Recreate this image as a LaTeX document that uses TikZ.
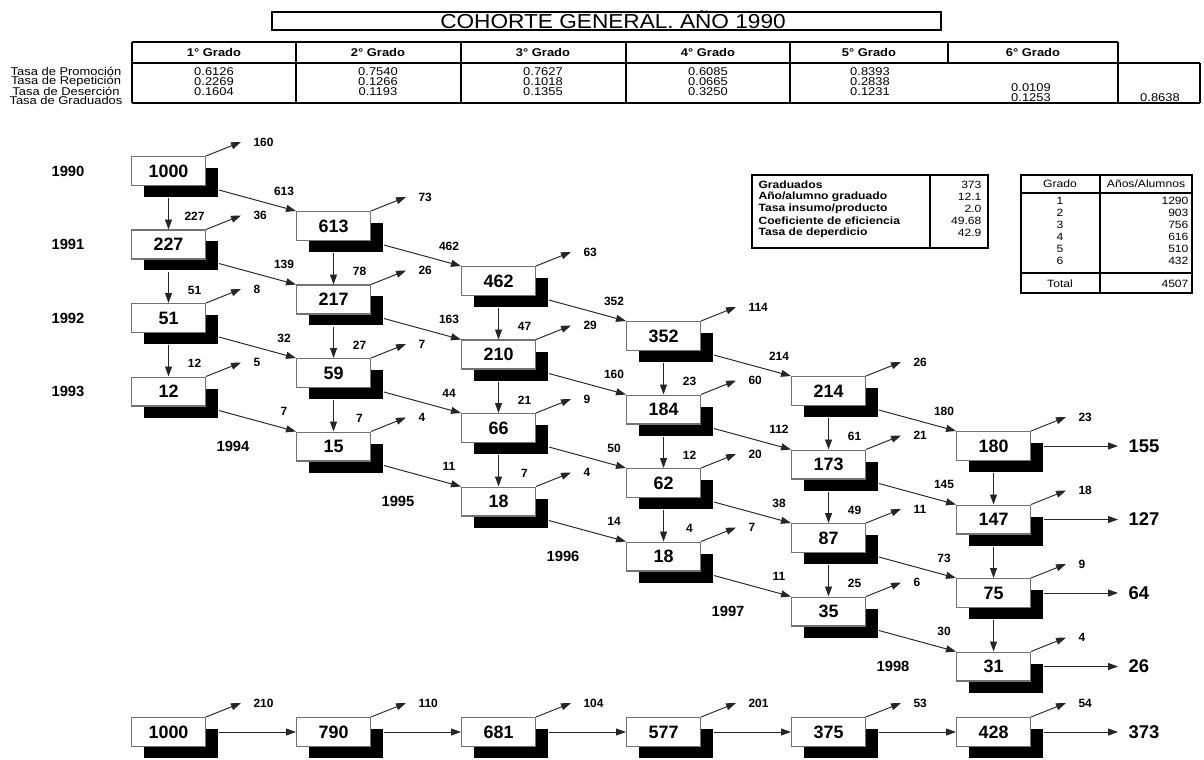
\documentclass[tikz,border=0pt]{standalone}
\usepackage{fontspec}
\setmainfont{Liberation Sans}
\newfontfamily\ancha[FakeStretch=1.15]{Liberation Sans}
\newfontfamily\anchatit[FakeStretch=1.12]{Liberation Sans}
\usetikzlibrary{arrows.meta,calc}

\tikzset{
  caja/.style={draw=black!55, fill=white, line width=0.6pt, anchor=north west,
    minimum width=1.48cm, minimum height=0.58cm, inner sep=0pt,
    font=\fontsize{10.2}{12}\selectfont\bfseries},
  sombra/.style={fill=black},
  flecha/.style={draw=black!85, line width=0.55pt, -{Triangle[length=0.2cm,width=0.14cm]}},
  etiq/.style={inner sep=0pt, font=\fontsize{6.8}{8}\selectfont\bfseries},
  anio/.style={inner sep=0pt, font=\fontsize{8.4}{10}\selectfont\bfseries},
  egreso/.style={inner sep=0pt, anchor=west, font=\fontsize{10.5}{12}\selectfont\bfseries},
  txt/.style={inner sep=0pt, font=\ancha\fontsize{6.4}{7}\selectfont},
  txtb/.style={inner sep=0pt, font=\ancha\fontsize{6.4}{7}\selectfont\bfseries},
  ind/.style={inner sep=0pt, font=\ancha\fontsize{6}{7}\selectfont},
  indb/.style={inner sep=0pt, font=\ancha\fontsize{6}{7}\selectfont\bfseries},
}

\begin{document}
\begin{tikzpicture}[x=0.02cm, y=-0.02cm, line width=0.6pt]
  \useasboundingbox (0,0) rectangle (1204,760);

  % Title
  \draw (272,12) rectangle (941,30);
  \node[inner sep=0pt, anchor=base, font=\anchatit\fontsize{11.5}{13}\selectfont] (titulo) at (613,28.5) {COHORTE GENERAL. AÑO 1990};

  % Table of rates
  \draw (132,42) -- (1118,42);
  \draw (132,63) -- (1200,63);
  \draw (132,103) -- (1200,103);
  \foreach \x in {132,296,461,626,790,948,1118}
    \draw (\x,42) -- (\x,63);
  \foreach \x in {132,296,461,626,790,1118,1200}
    \draw (\x,63) -- (\x,103);
  \foreach \g/\x in {1/214,2/378,3/543,4/708,5/869,6/1033}
    \node[txtb] (h\g) at (\x,52.5) {\g° Grado};
  \foreach \t [count=\i] in {Promoción,Repetición,Deserción,Graduados}
    \node[txt] (f\i) at (66,62+9.7*\i) {Tasa de \t};
  \foreach \x/\vp/\vr/\vd [count=\g] in {214/0.6126/0.2269/0.1604,378/0.7540/0.1266/0.1193,
      543/0.7627/0.1018/0.1355,708/0.6085/0.0665/0.3250,870/0.8393/0.2838/0.1231}
  {
    \node[txt] (p\g) at (\x,72) {\vp};
    \node[txt] (r\g) at (\x,82) {\vr};
    \node[txt] (d\g) at (\x,92) {\vd};
  }
  \node[txt] (r6) at (1031,88) {0.0109};
  \node[txt] (d6) at (1031,98) {0.1253};
  \node[txt] (g7) at (1160,98) {0.8638};

  % Indicators
  \draw (752,175) rectangle (988,248);
  \draw (930,175) -- (930,248);
  \foreach \t/\v [count=\i] in {Graduados/373,{Año/alumno graduado}/12.1,{Tasa insumo/producto}/2.0,
      Coeficiente de eficiencia/49.68,Tasa de deperdicio/42.9}
  {
    \node[indb, anchor=west] (ind\i) at (758,173+12*\i) {\t};
    \node[ind, anchor=east] (val\i) at (982,173+12*\i) {\v};
  }

  % Years per student
  \draw (1021,175) rectangle (1192,293);
  \draw (1100,175) -- (1100,293);
  \draw (1021,193) -- (1192,193);
  \draw (1021,273) -- (1192,273);
  \node[ind] (grado) at (1060,184) {Grado};
  \node[ind] (anios) at (1146,184) {Años/Alumnos};
  \foreach \v [count=\i] in {1290,903,756,616,510,432}
  {
    \node[ind] (gr\i) at (1060,189+12*\i) {\i};
    \node[ind, anchor=east] (aa\i) at (1189,189+12*\i) {\v};
  }
  \node[ind] (total) at (1060,284) {Total};
  \node[ind, anchor=east] (suma) at (1189,284) {4507};

  % Boxes of the cohort
  \foreach \col/\lista in {0/{1000,227,51,12},1/{613,217,59,15},2/{462,210,66,18},
      3/{352,184,62,18},4/{214,173,87,35},5/{180,147,75,31}}
    \foreach \v [count=\fil from 0] in \lista
    {
      \fill[sombra] (131+165*\col+13, 156+55*\col+73.5*\fil+12) rectangle ++(74,29);
      \node[caja] (n\col\fil) at (131+165*\col, 156+55*\col+73.5*\fil) {\v};
    }

  % Dropouts
  \foreach \col/\lista in {0/{160,36,8,5},1/{73,26,7,4},2/{63,29,9,4},
      3/{114,60,20,7},4/{26,21,11,6},5/{23,18,9,4}}
    \foreach \v [count=\fil from 0] in \lista
    {
      \coordinate (d\col\fil) at ($(n\col\fil.north east)+(35,-14)$);
      \draw[flecha] (n\col\fil.north east) -- (d\col\fil);
      \node[etiq, anchor=west] (ed\col\fil) at ($(d\col\fil)+(12,0)$) {\v};
    }

  % Repeaters
  \foreach \col/\lista in {0/{227,51,12},1/{78,27,7},2/{47,21,7},3/{23,12,4},4/{61,49,25}}
    \foreach \v [count=\fil from 1] in \lista
    {
      \pgfmathtruncatemacro\ant{\fil-1}
      \draw[flecha] ($(n\col\ant.south)+(0,12)$) -- (n\col\fil.north);
      \node[etiq] (ev\col\fil) at ($(n\col\fil.north)+(26,-13)$) {\v};
    }
  \foreach \fil [count=\ant from 0] in {1,2,3}
    \draw[flecha] ($(n5\ant.south)+(0,12)$) -- (n5\fil.north);

  % Promoted
  \foreach \col/\lista in {1/{613,139,32,7},2/{462,163,44,11},3/{352,160,50,14},
      4/{214,112,38,11},5/{180,145,73,30}}
    \foreach \v [count=\fil from 0] in \lista
    {
      \pgfmathtruncatemacro\ant{\col-1}
      \draw[flecha] ($(n\ant\fil.south east)+(13,4)$) -- (n\col\fil.north west);
      \node[etiq] (ep\col\fil) at ($(n\col\fil.north west)+(-12,-20)$) {\v};
    }

  % Graduates
  \foreach \v [count=\fil from 0] in {155,127,64,26}
  {
    \coordinate (g\fil) at ($(n5\fil.east)+(87,0)$);
    \draw[flecha] ($(n5\fil.east)+(13,0)$) -- (g\fil);
    \node[egreso] (eg\fil) at ($(g\fil)+(10,0)$) {\v};
  }

  % Years
  \foreach \fil in {0,...,3}
    \node[anio] (a\fil) at ($(n0\fil.west)+(-63,0)$) {199\fil};
  \foreach \col in {1,...,5}
  {
    \pgfmathtruncatemacro\an{1993+\col}
    \node[anio] (b\col) at ($(n\col3.west)+(-63,0)$) {\an};
  }

  % Bottom row
  \foreach \v [count=\i from 0] in {1000,790,681,577,375,428}
  {
    \fill[sombra] (131+165*\i+13, 717+12) rectangle ++(74,29);
    \node[caja] (m\i) at (131+165*\i, 717) {\v};
  }
  \foreach \v [count=\i from 0] in {210,110,104,201,53,54}
  {
    \coordinate (q\i) at ($(m\i.north east)+(35,-14)$);
    \draw[flecha] (m\i.north east) -- (q\i);
    \node[etiq, anchor=west] (eq\i) at ($(q\i)+(12,0)$) {\v};
  }
  \foreach \i [count=\j from 1] in {0,...,4}
    \draw[flecha] ($(m\i.east)+(13,0)$) -- (m\j.west);
  \coordinate (fin) at ($(m5.east)+(87,0)$);
  \draw[flecha] ($(m5.east)+(13,0)$) -- (fin);
  \node[egreso] (egresados) at ($(fin)+(10,0)$) {373};
\end{tikzpicture}
\end{document}
